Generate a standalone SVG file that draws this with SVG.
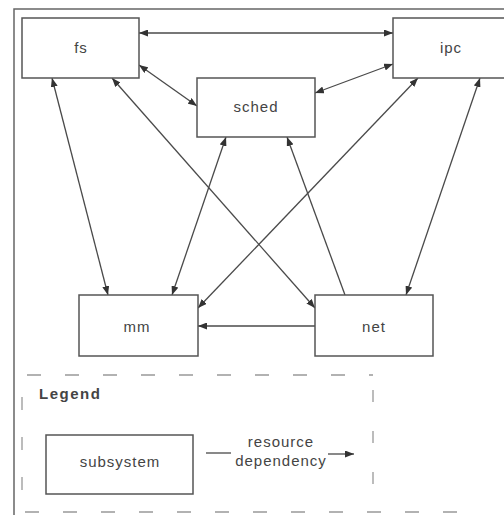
<svg xmlns="http://www.w3.org/2000/svg" width="504" height="515" viewBox="0 0 504 515">
  <style>
    .box { fill: #ffffff; stroke: #555555; stroke-width: 1.5; }
    .frame { fill: none; stroke: #666666; stroke-width: 1.5; }
    .dash { fill: none; stroke: #999999; stroke-width: 1.3; stroke-dasharray: 14 24; }
    .edge { fill: none; stroke: #4a4a4a; stroke-width: 1.3; }
    .label { font-family: "Liberation Sans", Arial, sans-serif; font-size: 15px; fill: #444444; text-anchor: middle; letter-spacing: 1px; }
    .legend-title { font-family: "Liberation Sans", Arial, sans-serif; font-size: 15px; font-weight: bold; fill: #444444; letter-spacing: 1.5px; }
  </style>
  <defs>
    <marker id="ah" viewBox="0 0 9 7" refX="9" refY="3.5" markerWidth="9" markerHeight="7" markerUnits="userSpaceOnUse" orient="auto-start-reverse">
      <path d="M0,0 L9,3.5 L0,7 z" fill="#333333"/>
    </marker>
  </defs>

  <rect width="504" height="515" fill="#ffffff"/>

  <!-- outer frame -->
  <path class="frame" d="M14,515 L14,9 L506,9"/>

  <!-- legend area and bottom border (dashed) -->
  <g id="legend-frame">
    <path class="dash" d="M27,375 L373,375"/>
    <path class="dash" d="M22,397 L22,512" style="stroke-dasharray: 13 27"/>
    <path class="dash" d="M373,390 L373,512" style="stroke-dasharray: 12 29"/>
    <path class="dash" d="M25,512 L480,512"/>
  </g>

  <!-- dependencies between subsystems -->
  <g id="connectors">
    <path class="edge" d="M139,33 L393,33" marker-start="url(#ah)" marker-end="url(#ah)"/>
    <path class="edge" d="M139,65 L197,106" marker-start="url(#ah)" marker-end="url(#ah)"/>
    <path class="edge" d="M315,93 L393,64" marker-start="url(#ah)" marker-end="url(#ah)"/>
    <path class="edge" d="M52,78 L108,295" marker-start="url(#ah)" marker-end="url(#ah)"/>
    <path class="edge" d="M112,78 L315,308" marker-start="url(#ah)" marker-end="url(#ah)"/>
    <path class="edge" d="M226,137 L172,295" marker-start="url(#ah)" marker-end="url(#ah)"/>
    <path class="edge" d="M418,78 L198,308" marker-start="url(#ah)" marker-end="url(#ah)"/>
    <path class="edge" d="M345,295 L287,137" marker-end="url(#ah)"/>
    <path class="edge" d="M480,78 L406,295" marker-start="url(#ah)" marker-end="url(#ah)"/>
    <path class="edge" d="M315,326 L198,326" marker-end="url(#ah)"/>
  </g>

  <g id="fs">
    <rect class="box" x="22" y="18" width="117" height="60"/>
    <text class="label" x="81" y="53">fs</text>
  </g>
  <g id="sched">
    <rect class="box" x="197" y="78" width="118" height="59"/>
    <text class="label" x="256" y="112">sched</text>
  </g>
  <g id="ipc">
    <rect class="box" x="393" y="18" width="120" height="60"/>
    <text class="label" x="451" y="53">ipc</text>
  </g>
  <g id="mm">
    <rect class="box" x="79" y="295" width="119" height="61"/>
    <text class="label" x="137" y="332">mm</text>
  </g>
  <g id="net">
    <rect class="box" x="315" y="295" width="118" height="61"/>
    <text class="label" x="374" y="332">net</text>
  </g>

  <!-- legend -->
  <g id="legend">
    <text class="legend-title" x="39" y="399">Legend</text>
    <g id="legend-subsystem">
      <rect class="box" x="46" y="435" width="147" height="59"/>
      <text class="label" x="120" y="467">subsystem</text>
    </g>
    <g id="legend-dependency">
      <path class="edge" d="M206,453 L231,453"/>
      <text class="label" x="281" y="447">resource</text>
      <text class="label" x="281" y="466">dependency</text>
      <path class="edge" d="M328,454 L354,454" marker-end="url(#ah)"/>
    </g>
  </g>
</svg>
